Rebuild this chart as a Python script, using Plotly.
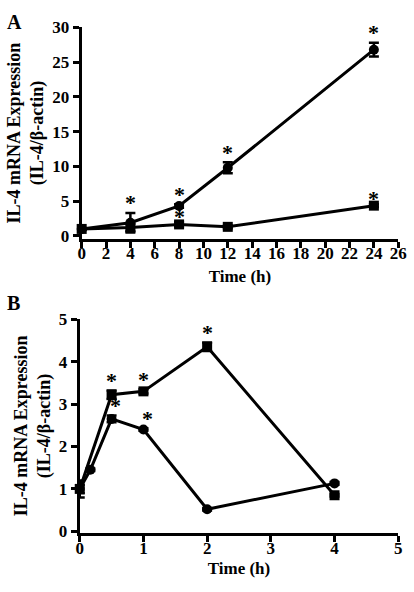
import plotly.graph_objects as go

# Panel A data
a_time = [0, 4, 8, 12, 24]
a_circle = [1.0, 1.9, 4.3, 9.8, 26.8]
a_circle_err = [0.15, 1.4, 0.25, 0.8, 1.0]
a_square_time = [0, 4, 8, 12, 24]
a_square = [1.0, 1.2, 1.65, 1.3, 4.35]
a_square_err = [0.1, 0.5, 0.3, 0.2, 0.2]
a_circle_star = [4, 8, 12, 24]
a_square_star = [8, 24]

# Panel B data
b_sq_time = [0, 0.5, 1, 2, 4]
b_square = [1.0, 3.22, 3.3, 4.35, 0.85]
b_square_err = [0.2, 0.1, 0.05, 0.1, 0.03]
b_ci_time = [0, 0.167, 0.5, 1, 2, 4]
b_circle = [1.0, 1.45, 2.65, 2.4, 0.52, 1.13]
b_circle_err = [0.1, 0.03, 0.08, 0.03, 0.03, 0.03]
b_square_star = [0.5, 1, 2]
b_circle_star = [0.5, 1]

FONT = "Liberation Serif"
fig = go.Figure()

def add_series(x, y, err, symbol, xa, ya):
    fig.add_trace(go.Scatter(
        x=x, y=y, mode="lines+markers", xaxis=xa, yaxis=ya,
        line=dict(color="black", width=3),
        marker=dict(symbol=symbol, size=10, color="black"),
        error_y=dict(type="data", array=err, color="black", thickness=2.5, width=5),
        cliponaxis=False, showlegend=False, hoverinfo="skip"))

add_series(a_time, a_circle, a_circle_err, "circle", "x", "y")
add_series(a_square_time, a_square, a_square_err, "square", "x", "y")
add_series(b_sq_time, b_square, b_square_err, "square", "x2", "y2")
add_series(b_ci_time, b_circle, b_circle_err, "circle", "x2", "y2")

annotations = []
def stars(xs, xdata, ydata, edata, xref, yref, xshift=0, yshift=10):
    for s in xs:
        i = xdata.index(s)
        annotations.append(dict(x=s, y=ydata[i] + edata[i], xref=xref, yref=yref,
                                text="<b>*</b>", showarrow=False, yanchor="middle",
                                yshift=yshift, xshift=xshift,
                                font=dict(family=FONT, size=22, color="black")))

stars(a_circle_star, a_time, a_circle, a_circle_err, "x", "y")
stars(a_square_star, a_square_time, a_square, a_square_err, "x", "y", yshift=6)
stars(b_square_star, b_sq_time, b_square, b_square_err, "x2", "y2")
stars(b_circle_star, b_ci_time, b_circle, b_circle_err, "x2", "y2", xshift=4)

annotations.append(dict(x=1 / 414, y=1 - 13 / 592, xref="paper", yref="paper", text="<b>A</b>",
                        showarrow=False, xanchor="left", yanchor="middle",
                        font=dict(family=FONT, size=20, color="black")))
annotations.append(dict(x=1 / 414, y=1 - 303 / 592, xref="paper", yref="paper", text="<b>B</b>",
                        showarrow=False, xanchor="left", yanchor="middle",
                        font=dict(family=FONT, size=20, color="black")))

tickfont = dict(family=FONT, size=17, color="black", weight="bold")
xtitlefont = dict(family=FONT, size=17, color="black", weight="bold")
ytitlefont = dict(family=FONT, size=18, color="black", weight="bold")
axis_common = dict(showline=True, linewidth=3, linecolor="black", ticks="outside",
                   ticklen=6, tickwidth=3, tickcolor="black", showgrid=False,
                   zeroline=False, tickfont=tickfont)

fig.update_layout(
    width=414, height=592, margin=dict(l=0, r=0, t=0, b=0),
    plot_bgcolor="white", paper_bgcolor="white",
    annotations=annotations,
    xaxis=dict(domain=[80 / 414, 406 / 414], range=[0, 26], tickvals=list(range(0, 27, 2)),
               anchor="y", ticklabelstandoff=-9,
               title=dict(text="<b>Time (h)</b>", font=xtitlefont, standoff=8),
               **axis_common),
    yaxis=dict(domain=[1 - 237 / 592, 1 - 19 / 592], range=[-0.42, 30], tickvals=[0, 5, 10, 15, 20, 25, 30],
               anchor="x", title=dict(text="<b>IL-4 mRNA Expression<br>(IL-4/β-actin)</b>", font=ytitlefont, standoff=4),
               **axis_common),
    xaxis2=dict(domain=[78 / 414, 406 / 414], range=[0, 5], tickvals=[0, 1, 2, 3, 4, 5],
                anchor="y2", ticklabelstandoff=-8,
                title=dict(text="<b>Time (h)</b>", font=xtitlefont, standoff=6),
                **axis_common),
    yaxis2=dict(domain=[1 - 540 / 592, 1 - 320 / 592], range=[-0.03, 5], tickvals=[0, 1, 2, 3, 4, 5],
                anchor="x2", title=dict(text="<b>IL-4 mRNA Expression<br>(IL-4/β-actin)</b>", font=ytitlefont, standoff=4),
                **axis_common),
)

fig.write_html("out.html", post_script="document.body.style.margin='0';",
               config={"displayModeBar": False})
